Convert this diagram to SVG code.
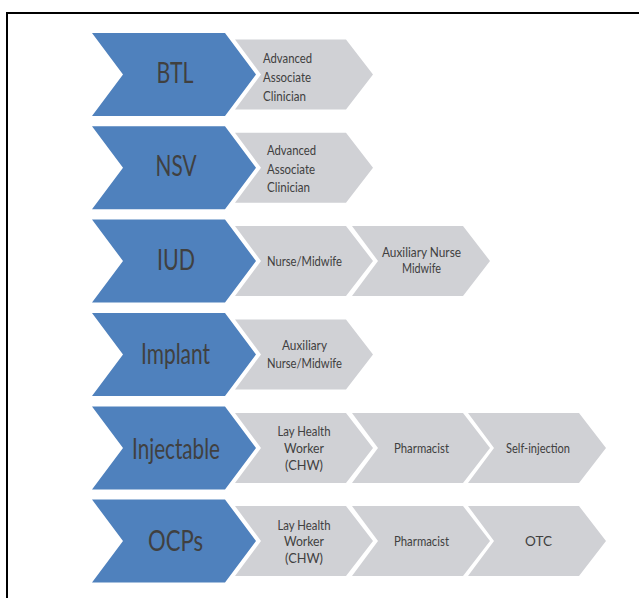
<svg xmlns="http://www.w3.org/2000/svg" xmlns:xlink="http://www.w3.org/1999/xlink" width="639" height="598" viewBox="0 0 639 598">
  <style>
    .blue { fill: #4f81bd; }
    .grey { fill: #d0d1d5; }
    .big { font-family: Lato, "Open Sans", "Liberation Sans", sans-serif; font-size: 28px; fill: #404040; text-anchor: middle; }
    .sm { font-family: Lato, "Open Sans", "Liberation Sans", sans-serif; font-size: 13.5px; fill: #404040; text-anchor: middle; }
    .sl { font-family: Lato, "Open Sans", "Liberation Sans", sans-serif; font-size: 13.5px; fill: #404040; }
    .frame { fill: none; stroke: #000; stroke-width: 2; }
  </style>
  <defs>
    <!-- method chevron, centred vertically on y=0 -->
    <path id="method" d="M92,-41.5 H225 L256,0 L225,41.5 H92 L123,0 Z"/>
    <!-- provider chevron, left edge at x=0, centred on y=0 -->
    <path id="step" d="M0,-35 H111 L138,0 L111,35 H0 L26,0 Z"/>
  </defs>

  <rect width="639" height="598" fill="#fff"/>
  <path class="frame" d="M7,600 V13 H641"/>

  <!-- BTL -->
  <g id="btl" transform="translate(0,74.5)">
    <use href="#method" class="blue"/>
    <text class="big" x="175" y="8.5" textLength="37" lengthAdjust="spacingAndGlyphs">BTL</text>
  </g>
  <g id="btl-aac" transform="translate(235,74.5)">
    <use href="#step" class="grey"/>
    <text class="sl" x="28" y="-11.5" textLength="49" lengthAdjust="spacingAndGlyphs">Advanced</text>
    <text class="sl" x="28" y="7.5" textLength="48" lengthAdjust="spacingAndGlyphs">Associate</text>
    <text class="sl" x="28" y="26" textLength="43" lengthAdjust="spacingAndGlyphs">Clinician</text>
  </g>

  <!-- NSV -->
  <g id="nsv" transform="translate(0,167.8)">
    <use href="#method" class="blue"/>
    <text class="big" x="176" y="8.5" textLength="41" lengthAdjust="spacingAndGlyphs">NSV</text>
  </g>
  <g id="nsv-aac" transform="translate(235,167.8)">
    <use href="#step" class="grey"/>
    <text class="sl" x="32" y="-12.5" textLength="49" lengthAdjust="spacingAndGlyphs">Advanced</text>
    <text class="sl" x="32" y="6.2" textLength="48" lengthAdjust="spacingAndGlyphs">Associate</text>
    <text class="sl" x="32" y="24.5" textLength="43" lengthAdjust="spacingAndGlyphs">Clinician</text>
  </g>

  <!-- IUD -->
  <g id="iud" transform="translate(0,261)">
    <use href="#method" class="blue"/>
    <text class="big" x="176" y="9" textLength="38" lengthAdjust="spacingAndGlyphs">IUD</text>
  </g>
  <g id="iud-nm" transform="translate(235,261)">
    <use href="#step" class="grey"/>
    <text class="sm" x="69.5" y="4.5" textLength="75" lengthAdjust="spacingAndGlyphs">Nurse/Midwife</text>
  </g>
  <g id="iud-anm" transform="translate(352,261)">
    <use href="#step" class="grey"/>
    <text class="sm" x="69.5" y="-4.3" textLength="79" lengthAdjust="spacingAndGlyphs">Auxiliary Nurse</text>
    <text class="sm" x="69.5" y="11.7" textLength="39" lengthAdjust="spacingAndGlyphs">Midwife</text>
  </g>

  <!-- Implant -->
  <g id="implant" transform="translate(0,354.4)">
    <use href="#method" class="blue"/>
    <text class="big" x="175.5" y="9.5" textLength="69" lengthAdjust="spacingAndGlyphs">Implant</text>
  </g>
  <g id="implant-anm" transform="translate(235,354.4)">
    <use href="#step" class="grey"/>
    <text class="sm" x="69.5" y="-4.4" textLength="45" lengthAdjust="spacingAndGlyphs">Auxiliary</text>
    <text class="sm" x="69.5" y="13.9" textLength="75" lengthAdjust="spacingAndGlyphs">Nurse/Midwife</text>
  </g>

  <!-- Injectable -->
  <g id="injectable" transform="translate(0,448)">
    <use href="#method" class="blue"/>
    <text class="big" x="176" y="10.5" textLength="88" lengthAdjust="spacingAndGlyphs">Injectable</text>
  </g>
  <g id="injectable-chw" transform="translate(235,448)">
    <use href="#step" class="grey"/>
    <text class="sm" x="69" y="-12" textLength="53" lengthAdjust="spacingAndGlyphs">Lay Health</text>
    <text class="sm" x="69" y="5" textLength="40" lengthAdjust="spacingAndGlyphs">Worker</text>
    <text class="sm" x="69" y="21.5" textLength="38" lengthAdjust="spacingAndGlyphs">(CHW)</text>
  </g>
  <g id="injectable-pharm" transform="translate(352,448)">
    <use href="#step" class="grey"/>
    <text class="sm" x="69.5" y="5" textLength="55" lengthAdjust="spacingAndGlyphs">Pharmacist</text>
  </g>
  <g id="injectable-self" transform="translate(468,448)">
    <use href="#step" class="grey"/>
    <text class="sm" x="70" y="5" textLength="64" lengthAdjust="spacingAndGlyphs">Self-injection</text>
  </g>

  <!-- OCPs -->
  <g id="ocps" transform="translate(0,541)">
    <use href="#method" class="blue"/>
    <text class="big" x="175.5" y="9.7" textLength="55" lengthAdjust="spacingAndGlyphs">OCPs</text>
  </g>
  <g id="ocps-chw" transform="translate(235,541)">
    <use href="#step" class="grey"/>
    <text class="sm" x="69" y="-11.5" textLength="53" lengthAdjust="spacingAndGlyphs">Lay Health</text>
    <text class="sm" x="69" y="5" textLength="40" lengthAdjust="spacingAndGlyphs">Worker</text>
    <text class="sm" x="69" y="21.5" textLength="38" lengthAdjust="spacingAndGlyphs">(CHW)</text>
  </g>
  <g id="ocps-pharm" transform="translate(352,541)">
    <use href="#step" class="grey"/>
    <text class="sm" x="69.5" y="5" textLength="55" lengthAdjust="spacingAndGlyphs">Pharmacist</text>
  </g>
  <g id="ocps-otc" transform="translate(468,541)">
    <use href="#step" class="grey"/>
    <text class="sm" x="70.5" y="5" textLength="27" lengthAdjust="spacingAndGlyphs">OTC</text>
  </g>

  <!-- no connectors: the chevrons themselves carry the flow -->
  <g id="connectors"/>
</svg>
